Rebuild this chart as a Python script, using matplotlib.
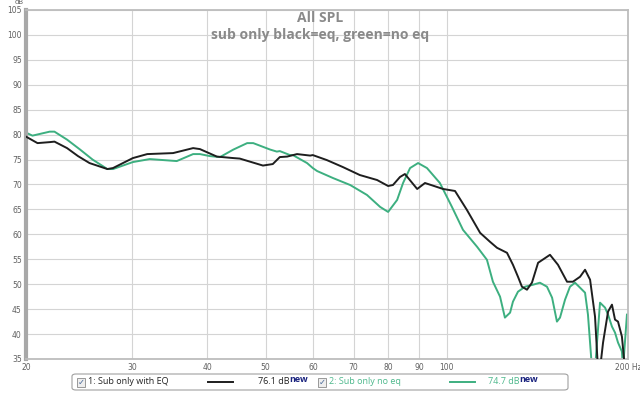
import numpy as np
import matplotlib.pyplot as plt
from matplotlib.patches import FancyBboxPatch, Rectangle
from matplotlib.lines import Line2D

# (Hz, dB)
eq_freq = [20.0, 20.9, 21.9, 22.3, 23.4, 24.4, 25.5, 27.3, 27.9, 30.1, 31.8, 35.1,
           37.9, 38.9, 41.5, 44.2, 45.3, 49.5, 51.4, 52.8, 54.3, 56.4, 59.3, 59.9,
           63.2, 67.2, 71.7, 76.6, 79.9, 81.4, 83.6, 85.2, 89.3, 92.0, 98.6, 103.2,
           108.0, 113.6, 118.0, 121.2, 125.9, 128.8, 131.3, 133.3, 135.9, 138.5,
           141.8, 148.4, 153.0, 158.4, 162.0, 166.5, 169.7, 173.0, 176.3, 178.3,
           179.7, 181.8, 185.3, 188.1, 190.3, 192.5, 195.4, 197.7]
eq_db = [79.6, 78.3, 78.5, 78.6, 77.3, 75.7, 74.3, 73.1, 73.3, 75.3, 76.1, 76.3,
         77.3, 77.1, 75.6, 75.3, 75.2, 73.8, 74.1, 75.5, 75.6, 76.1, 75.8, 75.9,
         74.9, 73.5, 71.9, 70.9, 69.7, 69.9, 71.5, 72.1, 69.1, 70.3, 69.1, 68.7,
         64.9, 60.3, 58.5, 57.3, 56.3, 53.9, 51.5, 49.5, 48.9, 50.3,
         54.3, 55.9, 53.9, 50.5, 50.5, 51.5, 52.9, 50.9, 43.5, 33.0,
         33.0, 38.3, 44.5, 45.9, 42.9, 42.5, 39.5, 33.0]

noeq_freq = [20.0, 20.5, 21.9, 22.3, 23.4, 24.6, 25.8, 27.3, 27.9, 30.1, 32.1, 35.6,
             37.9, 38.9, 40.4, 42.0, 44.2, 46.6, 47.7, 50.9, 52.2, 52.8, 54.9, 55.5,
             58.6, 59.9, 60.9, 64.7, 69.1, 73.7, 77.5, 79.9, 82.7, 84.6, 86.9, 89.6,
             92.7, 97.4, 102.0, 106.4, 112.3, 116.6, 119.3, 122.6, 124.9, 127.4,
             128.8, 131.3, 134.9, 139.1, 142.8, 146.7, 149.6, 152.4, 154.2, 157.2,
             160.2, 163.3, 166.5, 169.7, 171.6, 174.3, 176.3, 179.7, 183.2, 185.3,
             188.1, 190.3, 192.5, 195.4, 196.2, 199.2]
noeq_db = [80.4, 79.8, 80.6, 80.6, 79.0, 77.0, 75.0, 73.1, 73.1, 74.5, 75.1, 74.7,
           76.1, 76.1, 75.7, 75.5, 77.0, 78.3, 78.3, 77.0, 76.6, 76.7, 75.9, 75.9,
           74.3, 73.3, 72.7, 71.3, 69.9, 67.9, 65.5, 64.5, 66.9, 70.3, 73.3, 74.3,
           73.3, 70.3, 65.5, 60.9, 57.5, 54.9, 50.5, 47.5, 43.3, 44.3,
           46.5, 48.5, 49.5, 49.9, 50.3, 49.5, 47.3, 42.5, 43.3, 46.9,
           49.5, 50.3, 49.3, 48.3, 43.9, 33.0, 33.0, 46.3, 45.3, 43.9,
           41.5, 40.3, 38.3, 36.5, 33.0, 43.9]

x_ticks = [20, 30, 40, 50, 60, 70, 80, 90, 100, 200]
x_labels = ['20', '30', '40', '50', '60', '70', '80', '90', '100', '200 Hz']
y_ticks = list(range(35, 106, 5))

W, H = 640, 395
black = '#1e1e1e'
green = '#3daf80'
grey_txt = '#606060'


def px(x, y):
    return x / W, 1 - y / H


fig = plt.figure(figsize=(6.4, 3.95), dpi=100)
fig.patch.set_facecolor('white')
ax = fig.add_axes([26 / W, 1 - 359 / H, 602 / W, 349 / H])

ax.set_xscale('log')
ax.set_xlim(20, 200)
ax.set_ylim(35, 105)

ax.plot(eq_freq, eq_db, color=black, lw=1.4, zorder=3, solid_joinstyle='round')
ax.plot(noeq_freq, noeq_db, color=green, lw=1.4, zorder=2, solid_joinstyle='round')

ax.set_xticks(x_ticks)
ax.set_xticklabels(x_labels)
ax.xaxis.set_minor_locator(plt.NullLocator())
ax.set_yticks(y_ticks)
ax.tick_params(length=0, labelsize=5.5, labelcolor=grey_txt, pad=3)
ax.grid(True, color='#d4d4d4', lw=0.8)
ax.set_axisbelow(True)

for side in ['top', 'right', 'bottom']:
    ax.spines[side].set_color('#bdbdbd')
    ax.spines[side].set_linewidth(1.3)
ax.spines['left'].set_color('#a8a8a8')
ax.spines['left'].set_linewidth(3)

fig.text(*px(19, 2.5), 'dB', fontsize=5, color=grey_txt, ha='center', va='center')

fig.text(*px(320, 18), 'All SPL', fontsize=10, color='#8a8a8a', fontweight='bold',
         family='Open Sans', ha='center', va='center')
fig.text(*px(320, 35), 'sub only black=eq, green=no eq', fontsize=10, color='#8a8a8a',
         fontweight='bold', family='Open Sans', ha='center', va='center')

# legend strip
box_x0, box_y0 = px(72, 390)
box_x1, box_y1 = px(568, 374)
fig.patches.append(FancyBboxPatch((box_x0, box_y0), box_x1 - box_x0, box_y1 - box_y0,
                                  boxstyle='round,pad=0,rounding_size=0.006',
                                  transform=fig.transFigure, facecolor='white',
                                  edgecolor='#a0a0a0', lw=0.8))

entries = [
    (77, '1: Sub only with EQ', '#222222', black, 208, 233, 290, '76.1 dB'),
    (318, '2: Sub only no eq', '#4db88c', green, 450, 475, 520, '74.7 dB'),
]
for cb_x, label, tcol, lcol, l0, l1, val_x, val in entries:
    cx, cy = px(cb_x, 387)
    fig.patches.append(Rectangle((cx, cy), 8 / W, 9 / H, transform=fig.transFigure,
                                 facecolor='#eeeeee', edgecolor='#8a8a8a', lw=0.6))
    fig.text(*px(cb_x + 4, 382.5), '\u2713', fontsize=6, color='#4a6a9a',
             ha='center', va='center')
    fig.text(*px(cb_x + 11, 382), label, fontsize=6.5, color=tcol, va='center',
             family='Open Sans')
    fig.lines.append(Line2D([l0 / W, l1 / W], [1 - 382 / H, 1 - 382 / H],
                            transform=fig.transFigure, color=lcol, lw=1.4))
    fig.text(*px(val_x, 382), val, fontsize=6.5, color=tcol, va='center',
             ha='right', family='Open Sans')
    fig.text(*px(val_x - 1, 379), 'new', fontsize=6.5, color='#1a237e', va='center',
             ha='left', fontweight='bold', family='Open Sans')

fig.savefig('out.png', dpi=100)
